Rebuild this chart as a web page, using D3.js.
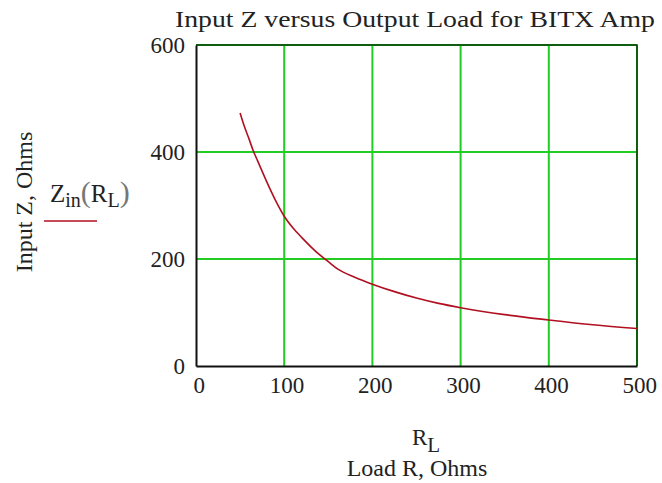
<!DOCTYPE html>
<html>
<head>
<meta charset="utf-8">
<script src="https://cdn.jsdelivr.net/npm/d3@7"></script>
<style>
  body { margin: 0; background: #fff; }
  text { font-family: "Liberation Serif", "Times New Roman", serif; fill: #222; }
</style>
</head>
<body>
<div class="chart"></div>
<script>
var margin = {top: 45, right: 25, bottom: 117, left: 196};
var width = 662 - margin.left - margin.right;
var height = 483 - margin.top - margin.bottom;

// load resistance (ohms) and input impedance (ohms)
var loadR = [50, 55, 60, 65, 70, 80, 90, 100, 110, 120, 140, 150, 160, 180, 200,
             225, 250, 275, 300, 350, 400, 450, 500];
var zin = [473, 447, 425, 402, 383, 345, 310, 280, 258, 240, 208, 195, 182, 166, 153,
           139, 127, 117, 109, 96, 86, 77, 70];

var xTicks = [0, 100, 200, 300, 400, 500];
var yTicks = [0, 200, 400, 600];

var xScale = d3.scaleLinear().domain([0, 500]).range([0, width]);
var yScale = d3.scaleLinear().domain([0, 600]).range([height, 0]);

var svgRoot = d3.select('div.chart').append('svg')
    .attr('width', 662)
    .attr('height', 483);

var svg = svgRoot.append('g')
    .attr('transform', 'translate(' + margin.left + ',' + margin.top + ')');

// grid
svg.append('g')
  .selectAll('line')
  .data(xTicks.slice(1))
  .enter().append('line')
    .attr('x1', d => xScale(d)).attr('x2', d => xScale(d))
    .attr('y1', 0).attr('y2', height)
    .attr('stroke', '#22cc22').attr('stroke-width', 2);

svg.append('g')
  .selectAll('line')
  .data(yTicks.slice(1))
  .enter().append('line')
    .attr('y1', d => yScale(d)).attr('y2', d => yScale(d))
    .attr('x1', 0).attr('x2', width)
    .attr('stroke', '#22cc22').attr('stroke-width', 2);

// frame top/right darker
svg.append('path')
    .attr('d', 'M0,0H' + width + 'V' + height)
    .attr('fill', 'none')
    .attr('stroke', '#0a3a0a')
    .attr('stroke-width', 1.5);

// axes
var xAxis = svg.append('g')
    .attr('transform', 'translate(0,' + height + ')')
    .call(d3.axisBottom(xScale).tickValues(xTicks).tickSize(0).tickPadding(11));
var yAxis = svg.append('g')
    .call(d3.axisLeft(yScale).tickValues(yTicks).tickSize(0).tickPadding(11));

[xAxis, yAxis].forEach(function(a) {
  a.select('.domain').attr('stroke', '#111').attr('stroke-width', 2);
  a.selectAll('text')
      .attr('font-size', 23)
      .attr('font-family', '"Liberation Serif", serif')
      .attr('fill', '#222');
});
xAxis.selectAll('text').attr('dx', (d, i) => i === 0 ? '0.12em' : '0.1em');

// curve
var line = d3.line()
    .x((d, i) => xScale(loadR[i]))
    .y(d => yScale(d))
    .curve(d3.curveMonotoneX);

svg.append('path')
    .datum(zin)
    .attr('d', line)
    .attr('fill', 'none')
    .attr('stroke', '#b01020')
    .attr('stroke-width', 1.6);

// title
svgRoot.append('text')
    .attr('x', 415)
    .attr('y', 27)
    .attr('text-anchor', 'middle')
    .attr('font-size', 23)
    .attr('textLength', 480)
    .attr('lengthAdjust', 'spacingAndGlyphs')
    .text('Input Z versus Output Load for BITX Amp');

// x label
var rl = svgRoot.append('text')
    .attr('x', 412)
    .attr('y', 445);
rl.append('tspan').attr('font-size', 23).text('R');
rl.append('tspan').attr('font-size', 21).attr('dy', 7).text('L');

svgRoot.append('text')
    .attr('x', 417)
    .attr('y', 476)
    .attr('text-anchor', 'middle')
    .attr('font-size', 24)
    .text('Load R, Ohms');

// y label
svgRoot.append('text')
    .attr('transform', 'translate(32,202) rotate(-90)')
    .attr('text-anchor', 'middle')
    .attr('font-size', 24)
    .text('Input Z, Ohms');

// legend
var leg = svgRoot.append('text')
    .attr('x', 50)
    .attr('y', 202)
    .attr('font-size', 25);
leg.append('tspan').text('Z');
leg.append('tspan').attr('font-size', 20).attr('dy', 5).text('in');
leg.append('tspan').attr('dy', -5).attr('font-size', 30).attr('fill', '#777').text('(');
leg.append('tspan').text('R');
leg.append('tspan').attr('font-size', 20).attr('dy', 5).text('L');
leg.append('tspan').attr('dy', -5).attr('font-size', 30).attr('fill', '#777').text(')');

svgRoot.append('line')
    .attr('x1', 44).attr('x2', 97)
    .attr('y1', 221).attr('y2', 221)
    .attr('stroke', '#b01020')
    .attr('stroke-width', 1.6);
</script>
</body>
</html>
